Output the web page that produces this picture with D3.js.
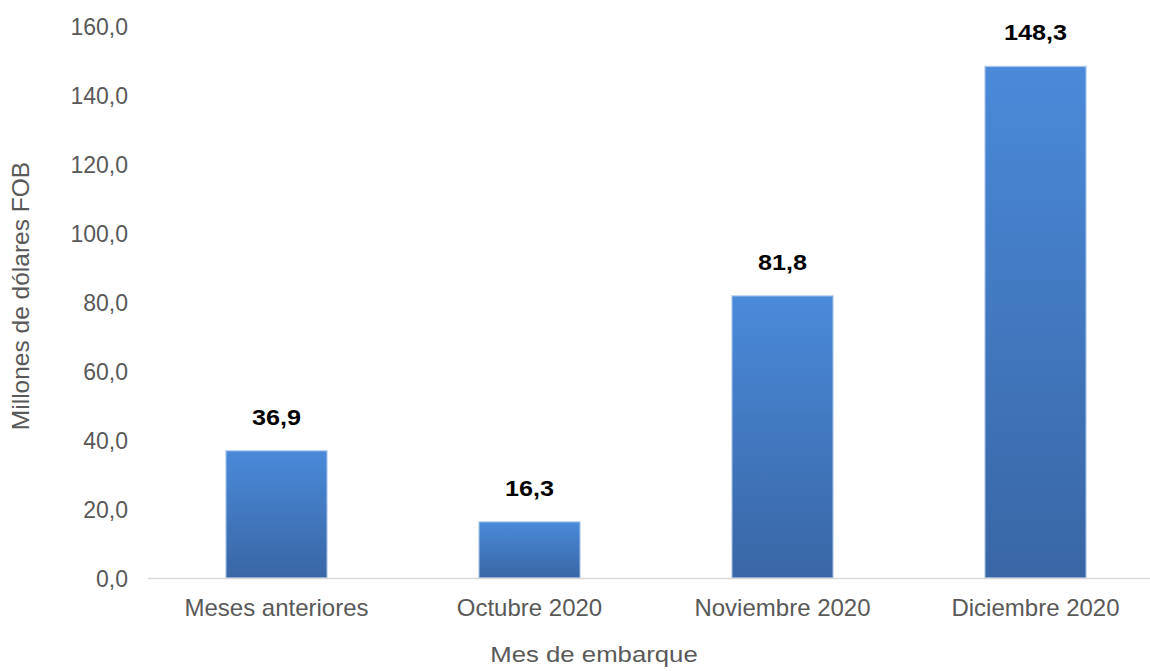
<!DOCTYPE html>
<html>
<head>
<meta charset="utf-8">
<script src="https://cdn.jsdelivr.net/npm/d3@7"></script>
<style>
  html, body { margin: 0; padding: 0; background: #fff; }
  svg { display: block; font-family: "Liberation Sans", Arial, sans-serif; }
</style>
</head>
<body>
<svg id="chart" width="1150" height="671"></svg>
<script>
const categories = ["Meses anteriores", "Octubre 2020", "Noviembre 2020", "Diciembre 2020"];
const values = [36.9, 16.3, 81.8, 148.3];
const yTicks = [0, 20, 40, 60, 80, 100, 120, 140, 160];
const yTitle = "Millones de dólares FOB";
const xTitle = "Mes de embarque";

const svg = d3.select("#chart");
const fmt = v => d3.format(".1f")(v).replace(".", ",");

const defs = svg.append("defs");
const grad = defs.append("linearGradient").attr("id", "barGrad")
  .attr("x1", 0).attr("y1", 0).attr("x2", 0).attr("y2", 1);
grad.append("stop").attr("offset", "0%").attr("stop-color", "#4a8ad9");
grad.append("stop").attr("offset", "100%").attr("stop-color", "#3966a5");

const x = d3.scaleBand().domain(categories).range([150, 1162]).paddingInner(0.6).paddingOuter(0.3);
const y = d3.scaleLinear().domain([0, 160]).range([578, 26]);

// y tick labels
svg.append("g").selectAll("text").data(yTicks).join("text")
  .attr("x", 128).attr("y", d => y(d) + 1).attr("dy", "0.35em")
  .attr("text-anchor", "end").attr("fill", "#595959").attr("font-size", 23)
  .text(d => fmt(d));

// bars
svg.append("g").selectAll("rect").data(values).join("rect")
  .attr("x", (d, i) => x(categories[i]))
  .attr("y", d => y(d))
  .attr("width", x.bandwidth())
  .attr("height", d => y(0) - y(d))
  .attr("fill", "url(#barGrad)")
  .attr("stroke", "#b9cfec").attr("stroke-width", 1.5).attr("stroke-opacity", 0.7);

// x axis line
svg.append("line").attr("x1", 148).attr("x2", 1150).attr("y1", 578.5).attr("y2", 578.5)
  .attr("stroke", "#d9d9d9").attr("stroke-width", 1.5);

// value labels (slightly wide bold face)
svg.append("g").selectAll("text").data(values).join("text")
  .attr("transform", (d, i) => `translate(${x(categories[i]) + x.bandwidth() / 2},${y(d) - 26}) scale(1.12,1)`)
  .attr("text-anchor", "middle").attr("font-weight", "bold").attr("font-size", 22.5)
  .attr("fill", "#000").text(d => fmt(d));

// category labels
svg.append("g").selectAll("text").data(categories).join("text")
  .attr("x", d => x(d) + x.bandwidth() / 2).attr("y", 616)
  .attr("text-anchor", "middle").attr("fill", "#595959").attr("font-size", 24)
  .text(d => d);

// axis titles
svg.append("text").attr("transform", "translate(594,662) scale(1.12,1)").attr("text-anchor", "middle")
  .attr("fill", "#595959").attr("font-size", 23).text(xTitle);
svg.append("text").attr("transform", "translate(29,296) rotate(-90)")
  .attr("text-anchor", "middle").attr("fill", "#595959").attr("font-size", 24.5).text(yTitle);
</script>
</body>
</html>
